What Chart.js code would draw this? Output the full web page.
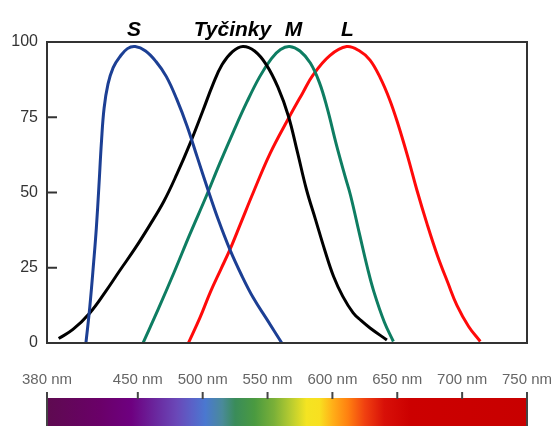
<!DOCTYPE html>
<html>
<head>
<meta charset="utf-8">
<script src="https://cdn.jsdelivr.net/npm/chart.js@4"></script>
<style>
  html, body { margin: 0; padding: 0; background: #fff; }
  canvas { display: block; }
</style>
</head>
<body>
<canvas id="coneChart" width="558" height="426"></canvas>
<script>
// citlivost (%) podle vlnové délky (nm)
const sNm  = [410, 413, 416, 418, 420, 422, 424, 427, 431, 436, 442, 448, 456, 464, 472, 480, 488, 496, 504, 512, 521, 530, 539, 550, 561];
const sVal = [0, 12, 27, 38, 52, 67, 78, 86, 91.5, 95, 97.8, 98.5, 97, 93.5, 88.5, 81, 72, 61.5, 51, 41, 31, 22.5, 15, 7.5, 0];

const rodNm  = [389, 400, 413, 425, 436, 448, 459, 470, 480, 490, 500, 508, 515, 523, 531, 540, 549, 558, 566, 573, 580, 587, 594, 601, 608, 616, 622, 629, 642];
const rodVal = [1.5, 4.5, 10, 17, 24, 31.5, 39, 47, 56, 66, 77, 86, 92.5, 96.8, 98.5, 97, 92.5, 85, 75.5, 63.5, 51, 41, 31, 22, 15.5, 10, 7.5, 5, 1];

const mNm  = [454, 466, 478, 490, 503, 513, 524, 534, 544, 553, 560, 567, 575, 583, 590, 596, 603, 610, 614, 621, 627, 632, 640, 647];
const mVal = [0, 11.5, 23.5, 36, 49, 59.5, 70.5, 80, 88.5, 94.5, 97.5, 98.5, 97, 93, 86.5, 78, 66, 55, 49, 36, 25, 17, 7, 0.5];

const lNm  = [489, 498, 506, 514, 521, 530, 539, 552, 566, 577, 585, 598, 611, 621, 629, 637, 644, 650, 658, 665, 673, 681, 689, 696, 705, 714];
const lVal = [0, 8.5, 17, 24.5, 31, 40.5, 50, 63, 74.5, 83, 89, 95.5, 98.5, 97, 94, 88, 81, 73.5, 62, 51, 39.5, 29, 20, 12.5, 5.5, 0.5];

const peakLabels = ["S", "Tyčinky", "M", "L"];
const peakLabelNm = [447, 523, 570, 611.5];

const xTicks = [380, 450, 500, 550, 600, 650, 700, 750];
const yTicks = [0, 25, 50, 75, 100];

const spectrumNm = [380, 420, 445, 465, 480, 492, 502, 515, 525, 540, 555, 568, 580, 590, 600, 612, 625, 640, 660, 750];
const spectrumColors = ["#5e0a50", "#6a0068", "#6e0080", "#6a2aa0", "#6a48b8", "#5a62c8", "#4a78d0", "#4a8a9a", "#3a8c5a",
  "#4a9a40", "#7ab038", "#b8cc30", "#f4e422", "#f8e020", "#ffb018", "#ff8010", "#f04010", "#d81008", "#cc0000", "#c80000"];

const toPoints = (xs, ys) => xs.map((v, i) => ({ x: v, y: ys[i] }));

const lineSet = (data, color) => ({
  data,
  borderColor: color,
  borderWidth: 3,
  pointRadius: 0,
  fill: false,
  tension: 0.4,
});

const frameAndSpectrum = {
  id: "frameAndSpectrum",
  afterDraw(chart) {
    const { ctx, chartArea: a, scales: { x, y } } = chart;
    ctx.save();

    // rámeček a vnitřní značky osy y
    ctx.strokeStyle = "#333";
    ctx.lineWidth = 2;
    ctx.strokeRect(a.left, a.top, a.right - a.left, a.bottom - a.top);
    yTicks.forEach((v) => {
      const py = y.getPixelForValue(v);
      ctx.beginPath();
      ctx.moveTo(a.left, py);
      ctx.lineTo(a.left + 10, py);
      ctx.stroke();
    });

    // spektrum
    const x0 = x.getPixelForValue(380),
      x1 = x.getPixelForValue(750);
    const grad = ctx.createLinearGradient(x0, 0, x1, 0);
    spectrumNm.forEach((nm, i) => grad.addColorStop((nm - 380) / 370, spectrumColors[i]));
    ctx.fillStyle = grad;
    ctx.fillRect(x0, 398, x1 - x0, 28);

    ctx.strokeStyle = "#444";
    ctx.lineWidth = 2;
    xTicks.forEach((v) => {
      const px = x.getPixelForValue(v);
      ctx.beginPath();
      ctx.moveTo(px, 392);
      ctx.lineTo(px, 399);
      ctx.stroke();
    });
    ctx.beginPath();
    ctx.moveTo(x0, 398);
    ctx.lineTo(x0, 426);
    ctx.moveTo(x1, 398);
    ctx.lineTo(x1, 426);
    ctx.stroke();

    // popisky křivek
    ctx.fillStyle = "#000";
    ctx.font = "italic bold 21px 'Liberation Sans', Arial, sans-serif";
    ctx.textAlign = "center";
    ctx.textBaseline = "alphabetic";
    peakLabels.forEach((t, i) => ctx.fillText(t, x.getPixelForValue(peakLabelNm[i]), 36));

    ctx.restore();
  },
};

const coneChart = new Chart(document.getElementById("coneChart"), {
  type: "line",
  data: {
    datasets: [
      lineSet(toPoints(sNm, sVal), "#1c3f94"),
      lineSet(toPoints(rodNm, rodVal), "#000000"),
      lineSet(toPoints(mNm, mVal), "#0e7d62"),
      lineSet(toPoints(lNm, lVal), "#ff0a0a"),
    ],
  },
  options: {
    responsive: false,
    animation: false,
    devicePixelRatio: 1,
    layout: { padding: { top: 42, right: 31, bottom: 33, left: 0 } },
    plugins: { legend: { display: false }, tooltip: { enabled: false } },
    scales: {
      x: {
        type: "linear",
        min: 380,
        max: 750,
        afterBuildTicks: (scale) => { scale.ticks = xTicks.map((v) => ({ value: v })); },
        afterFit: (scale) => {
          scale.height = 50;
          scale.paddingLeft = 0;
          scale.paddingRight = 0;
        },
        grid: { display: false, drawTicks: false },
        border: { display: false },
        ticks: {
          autoSkip: false,
          maxRotation: 0,
          padding: 28,
          color: "#666",
          font: { family: "'Liberation Sans', Arial, sans-serif", size: 15 },
          callback: (v) => v + " nm",
        },
      },
      y: {
        min: 0,
        max: 100,
        afterBuildTicks: (scale) => { scale.ticks = yTicks.map((v) => ({ value: v })); },
        afterFit: (scale) => {
          scale.width = 47;
          scale.paddingTop = 0;
          scale.paddingBottom = 0;
        },
        grid: { display: false, drawTicks: false },
        border: { display: false },
        ticks: {
          padding: 9,
          color: "#333",
          font: { family: "'Liberation Sans', Arial, sans-serif", size: 16 },
        },
      },
    },
  },
  plugins: [frameAndSpectrum],
});
</script>
</body>
</html>
